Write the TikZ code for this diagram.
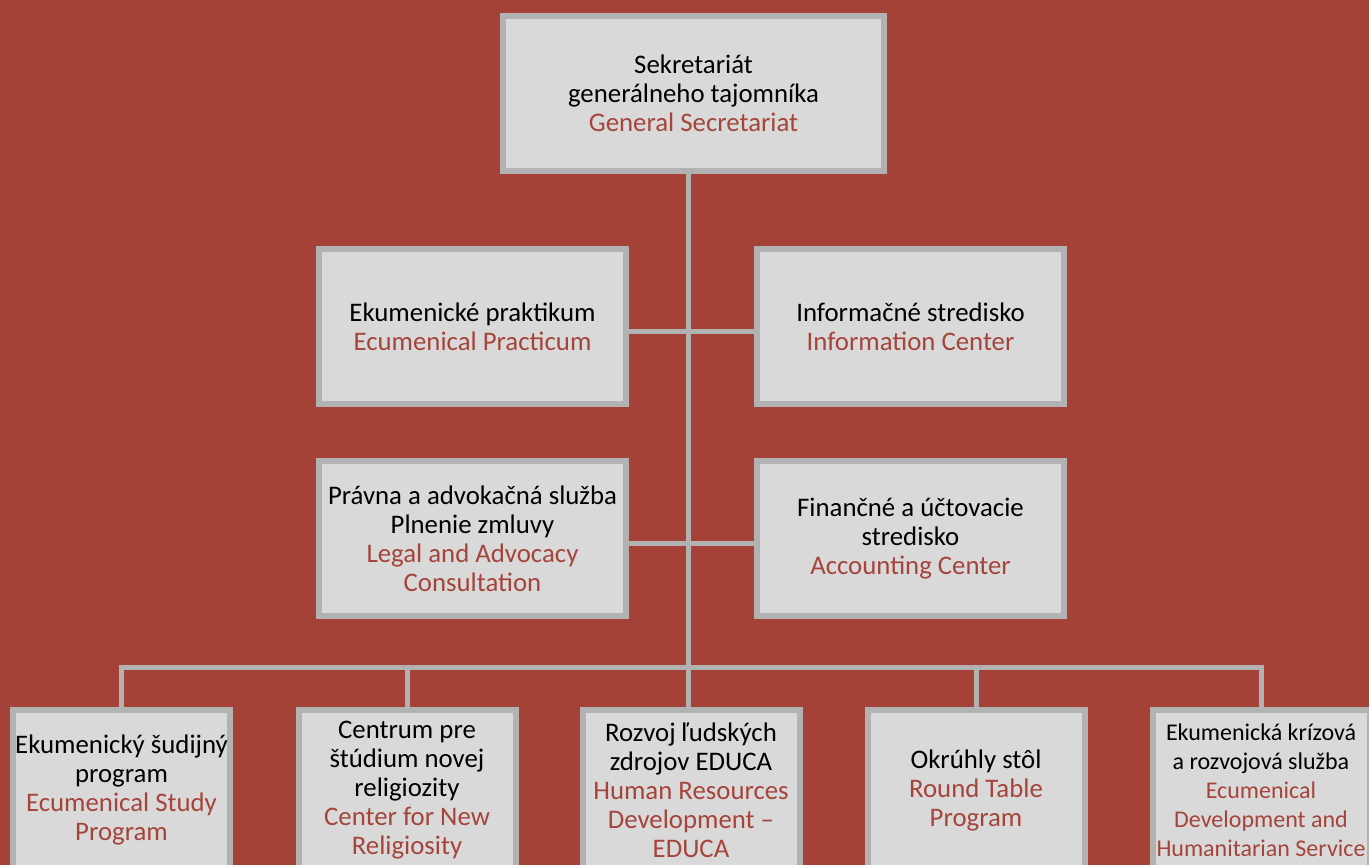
\documentclass[tikz,border=0pt]{standalone}
\usepackage{fontspec}
\setmainfont{Carlito}
\definecolor{bgred}{HTML}{A44238}
\definecolor{txtred}{HTML}{A5443A}
\definecolor{boxfill}{HTML}{D9D9D9}
\definecolor{boxline}{HTML}{B2B2B2}
\newcommand{\en}[1]{\textcolor{txtred}{#1}}
\begin{document}
\begin{tikzpicture}[x=1pt,y=-1pt,
  orgbox/.style={draw=boxline, fill=boxfill, line width=6pt, rectangle, inner sep=0pt,
    align=center, text=black, font=\fontsize{26.8}{29}\selectfont},
  wide/.style={orgbox, minimum width=307pt, minimum height=155pt},
  small/.style={orgbox, minimum width=217pt, minimum height=160pt},
  conn/.style={draw=boxline, line width=5pt}]
\useasboundingbox (0,0) rectangle (1369,865);
\fill[bgred] (0,0) rectangle (1369,865);
\coordinate (trunk) at (688,667);
\coordinate (h1) at (688,331);
\coordinate (h2) at (688,543);
\coordinate (bus) at (688,667);
% nodes
\node[orgbox, minimum width=381pt, minimum height=155pt] (top) at (693.5,93.5)
  {Sekretariát\\generálneho tajomníka\\\en{General Secretariat}};
\node[wide] (l1) at (472.5,326.5) {Ekumenické praktikum\\\en{Ecumenical Practicum}};
\node[wide] (r1) at (910.5,326.5) {Informačné stredisko\\\en{Information Center}};
\node[wide] (l2) at (472.5,538.5) {Právna a advokačná služba\\Plnenie zmluvy\\\en{Legal and Advocacy}\\\en{Consultation}};
\node[wide] (r2) at (910.5,538.5) {Finančné a účtovacie\\stredisko\\\en{Accounting Center}};
\node[small] (b1) at (121.5,790) {Ekumenický šudijný\\program\\\en{Ecumenical Study}\\\en{Program}};
\node[small] (b2) at (407,790) {Centrum pre\\štúdium novej\\religiozity\\\en{Center for New}\\\en{Religiosity}};
\node[small] (b3) at (691,790) {Rozvoj ľudských\\zdrojov EDUCA\\\en{Human Resources}\\\en{Development –}\\\en{EDUCA}};
\node[small] (b4) at (976,790) {Okrúhly stôl\\\en{Round Table}\\\en{Program}};
\node[small, font=\fontsize{24}{29}\selectfont] (b5) at (1261,790) {Ekumenická krízová\\a rozvojová služba\\\en{Ecumenical}\\\en{Development and}\\\en{Humanitarian Service}};
% connectors
\draw[conn] (top.south -| trunk) -- (b3.north -| trunk);
\draw[conn] (l1.east |- h1) -- (r1.west |- h1);
\draw[conn] (l2.east |- h2) -- (r2.west |- h2);
\draw[conn] (b1.north) -- (b1.north |- bus) -- (b5.north |- bus) -- (b5.north);
\draw[conn] (b2.north) -- (b2.north |- bus);
\draw[conn] (b4.north) -- (b4.north |- bus);
\end{tikzpicture}
\end{document}
